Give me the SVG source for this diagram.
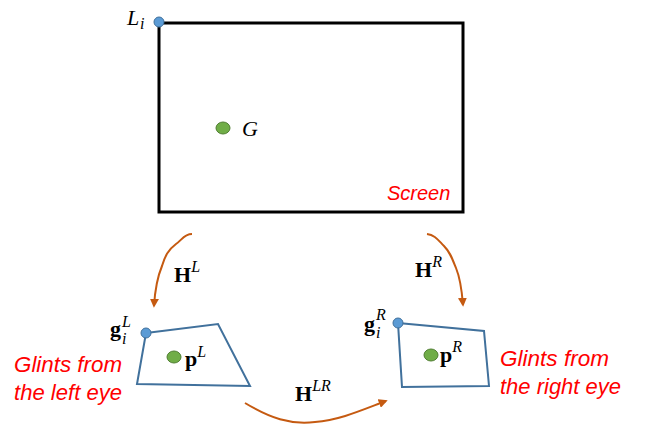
<svg xmlns="http://www.w3.org/2000/svg" width="647" height="429" viewBox="0 0 647 429">
<defs>
<marker id="ah" viewBox="0 0 10 10" refX="8" refY="5" markerWidth="4.5" markerHeight="4.5" orient="auto" markerUnits="strokeWidth">
<path d="M0,0 L10,5 L0,10 z" fill="#C55A11"/>
</marker>
</defs>
<style>
.red{font-family:"Liberation Sans",Arial,sans-serif;font-style:italic;fill:#FF0000;font-size:22px}
.math{font-family:"Liberation Serif","DejaVu Serif",serif;fill:#000}
.b{font-weight:bold;font-size:22px}
.sup{font-style:italic;font-size:16px}
.it{font-style:italic;font-size:22px}
.quad{fill:none;stroke:#41719C;stroke-width:2}
.blue{fill:#5B9BD5;stroke:#41719C;stroke-width:1}
.green{fill:#70AD47;stroke:#507E32;stroke-width:1}
.arr{fill:none;stroke:#C55A11;stroke-width:2;marker-end:url(#ah)}
</style>
<rect width="647" height="429" fill="#fff"/>
<g id="screen">
<rect x="159" y="23" width="304" height="189" fill="none" stroke="#000" stroke-width="3"/>
<text class="red" x="387" y="200" style="font-size:20px">Screen</text>
</g>
<g id="Li">
<circle cx="159" cy="22" r="5" class="blue"/>
<text class="math it" x="127" y="25">L</text>
<text class="math sup" x="140" y="29">i</text>
</g>
<g id="G">
<ellipse cx="223" cy="128" rx="7" ry="6" class="green"/>
<text class="math it" x="242" y="136">G</text>
</g>
<g id="left">
<polygon class="quad" points="146,333 218,324 250,386 137,384"/>
<circle cx="146" cy="333" r="5" class="blue"/>
<ellipse cx="174" cy="357" rx="7" ry="6" class="green"/>
<text class="math" x="185" y="366"><tspan class="b">p</tspan><tspan class="sup" dy="-9">L</tspan></text>
<text class="math b" x="110" y="336">g</text>
<text class="math sup" x="122" y="327">L</text>
<text class="math sup" x="122" y="344">i</text>
<text class="red" x="14" y="372" textLength="108" lengthAdjust="spacingAndGlyphs">Glints from</text>
<text class="red" x="14" y="400" textLength="108" lengthAdjust="spacingAndGlyphs">the left eye</text>
</g>
<g id="right">
<polygon class="quad" points="398,323 484,331 489,386 402,387"/>
<circle cx="398" cy="323" r="5" class="blue"/>
<ellipse cx="431" cy="355" rx="7" ry="6" class="green"/>
<text class="math" x="440" y="362"><tspan class="b">p</tspan><tspan class="sup" dy="-10">R</tspan></text>
<text class="math b" x="364" y="331">g</text>
<text class="math sup" x="376" y="320">R</text>
<text class="math sup" x="376" y="338">i</text>
<text class="red" x="500" y="366" textLength="109" lengthAdjust="spacingAndGlyphs">Glints from</text>
<text class="red" x="500" y="394" textLength="121" lengthAdjust="spacingAndGlyphs">the right eye</text>
</g>
<g id="connectors">
<path class="arr" d="M192,234 C184,234 182,240 176,244 C168,250 165,256 162,266 C157,278 155,290 154,306"/>
<path class="arr" d="M427,234 C435,235 438,240 444,246 C450,252 452,258 456,268 C461,280 462,292 463,305"/>
<path class="arr" d="M245,403 C270,418 290,425 315,422 C340,420 362,410 386,401"/>
<text class="math" x="174" y="282"><tspan class="b">H</tspan><tspan class="sup" dy="-10">L</tspan></text>
<text class="math" x="415" y="277"><tspan class="b">H</tspan><tspan class="sup" dy="-10">R</tspan></text>
<text class="math" x="295" y="401"><tspan class="b">H</tspan><tspan class="sup" dy="-10">LR</tspan></text>
</g>
</svg>
